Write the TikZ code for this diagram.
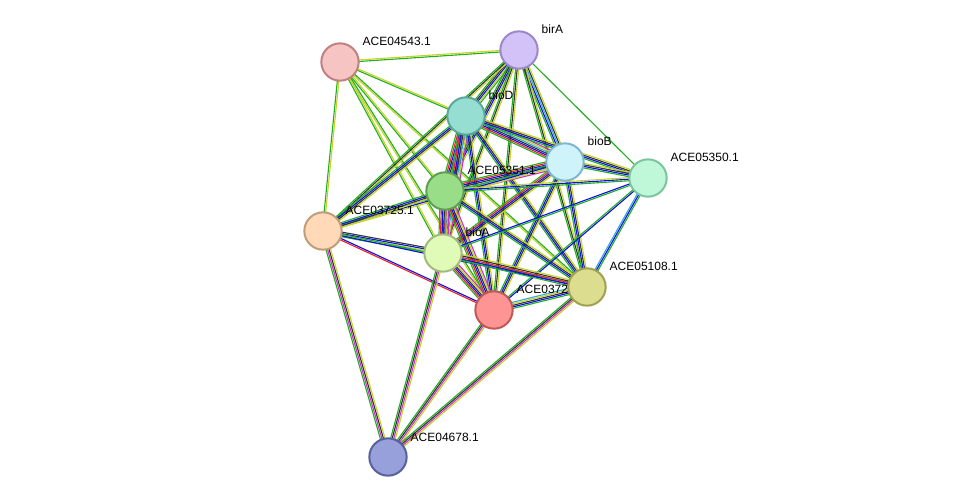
\documentclass[tikz,border=0pt]{standalone}
\usepackage{fontspec}
\setmainfont{Liberation Sans}
\usetikzlibrary{calc}
\pgfdeclarelayer{bg}
\pgfsetlayers{bg,main}
\definecolor{G}{HTML}{22B022}
\definecolor{Y}{HTML}{C4D42A}
\definecolor{B}{HTML}{1010EE}
\definecolor{K}{HTML}{333333}
\definecolor{M}{HTML}{CC33CC}
\definecolor{C}{HTML}{33AADD}
\definecolor{R}{HTML}{EE2222}
\tikzset{
 prot/.style={circle,draw,line width=1.5pt,minimum size=28pt,inner sep=0pt},
 lab/.style={font=\fontsize{9}{10}\selectfont,anchor=base west},
 e/.style={line width=0.85pt}
}
\newcommand\edge[3]{%
 \xdef\nn{0}%
 \foreach \c in {#3}{\pgfmathparse{int(\nn+1)}\xdef\nn{\pgfmathresult}}%
 \foreach \c [count=\i] in {#3}{%
  \pgfmathsetmacro\o{(\i-(\nn+1)/2)*1.15}%
  \draw[e,\c] ($(#1.center)!\o pt!90:(#2.center)$) -- ($(#2.center)!\o pt!-90:(#1.center)$);}%
}
\begin{document}
\begin{tikzpicture}[x=0.75pt,y=-0.75pt]
\useasboundingbox (0,0) rectangle (975,502);
\newcommand\prot[5]{\definecolor{pf}{HTML}{#4}\definecolor{pd}{HTML}{#5}%
 \node[prot,fill=pf,draw=pd] (#1) at (#2) {};
 \node[lab] at ($(#2)+(18,-16)$) {#3};}
\prot{a}{340,62}{ACE04543.1}{F7C4C4}{C08080}
\prot{birA}{519,50}{birA}{D3C2F8}{9A88C8}
\prot{bioD}{466,116}{bioD}{96DDD2}{5AA89C}
\prot{bioB}{565,162}{bioB}{CFF3FB}{7EB6D0}
\prot{f}{648,178}{ACE05350.1}{BFF8D8}{7CC49C}
\prot{s}{445,191}{ACE05351.1}{99DD88}{5E9E50}
\prot{p}{323,231}{ACE03725.1}{FFD9B8}{C09C78}
\prot{bioA}{443,253}{bioA}{E0FAB8}{A0BA7C}
\prot{r}{494,310}{ACE03722.1}{FF9494}{C05858}
\prot{k}{587,287}{ACE05108.1}{DDDD90}{A0A050}
\prot{n}{388,457}{ACE04678.1}{98A0DC}{58609C}
\begin{pgfonlayer}{bg}
\edge{a}{birA}{G,Y}
\edge{a}{bioD}{G,Y}
\edge{a}{s}{G,Y}
\edge{a}{bioA}{G,Y}
\edge{a}{p}{G,Y}
\edge{a}{r}{Y,G}
\edge{a}{k}{Y,G}
\edge{birA}{bioD}{G,K,B,Y,G}
\edge{birA}{bioB}{G,B,C,K,Y}
\edge{birA}{s}{G,K,B,Y}
\edge{birA}{f}{G}
\edge{birA}{p}{G,K,Y}
\edge{birA}{bioA}{G,K,Y}
\edge{birA}{r}{G,K,Y}
\edge{birA}{k}{G,K,Y}
\edge{bioD}{bioB}{G,R,B,K,C,Y,M}
\edge{bioD}{s}{G,R,B,K,C,Y,M}
\edge{bioD}{p}{G,B,K,Y}
\edge{bioD}{bioA}{G,R,B,K,C,Y,M}
\edge{bioD}{r}{G,B,K,Y}
\edge{bioD}{k}{G,B,K,Y}
\edge{bioD}{f}{G,B,K,Y}
\edge{bioB}{s}{G,R,B,K,C,Y,M}
\edge{bioB}{f}{G,B,K,Y}
\edge{bioB}{p}{G,B,Y}
\edge{bioB}{bioA}{G,R,B,K,Y}
\edge{bioB}{r}{G,B,K,Y}
\edge{bioB}{k}{G,B,K,Y}
\edge{s}{f}{G,B,Y}
\edge{s}{p}{G,B,K,Y}
\edge{s}{bioA}{G,R,B,K,C,Y,M}
\edge{s}{r}{G,R,B,K,Y,M}
\edge{s}{k}{G,B,K,Y}
\edge{f}{bioA}{B,G}
\edge{f}{r}{G,B}
\edge{f}{k}{C,B,G}
\edge{p}{bioA}{G,Y,B,K}
\edge{p}{r}{R,B}
\edge{p}{k}{B,G}
\edge{p}{n}{G,M,K,Y}
\edge{bioA}{r}{G,R,B,K,Y,M}
\edge{bioA}{k}{G,B,R,K,Y}
\edge{bioA}{n}{G,K,M,Y}
\edge{r}{k}{G,B,K,Y,C}
\edge{r}{n}{G,K,M,Y}
\edge{k}{n}{G,K,M,Y}
\end{pgfonlayer}
\end{tikzpicture}
\end{document}
